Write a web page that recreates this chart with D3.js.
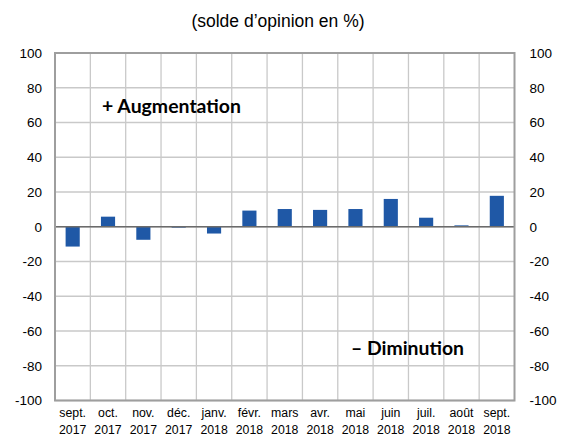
<!DOCTYPE html>
<html>
<head>
<meta charset="utf-8">
<script src="https://cdn.jsdelivr.net/npm/d3@7"></script>
<style>
  body { margin: 0; background: #fff; }
  svg { display: block; font-family: "Liberation Sans", Arial, sans-serif; }
</style>
</head>
<body>
<div class="container"></div>
<script>
const months = ["sept.", "oct.", "nov.", "déc.", "janv.", "févr.", "mars", "avr.", "mai", "juin", "juil.", "août", "sept."]
const years = ["2017", "2017", "2017", "2017", "2018", "2018", "2018", "2018", "2018", "2018", "2018", "2018", "2018"]
const values = [-11.4, 5.8, -7.5, -0.5, -3.9, 9.3, 10.2, 9.7, 10.2, 16.0, 5.2, 0.8, 17.8]
const yTicks = [-100, -80, -60, -40, -20, 0, 20, 40, 60, 80, 100]

const w = 563
const h = 441
const plotLeft = 55
const plotRight = 514.5
const plotTop = 53
const plotBottom = 400.5

const svg = d3.select(".container")
  .append("svg")
  .attr("width", w)
  .attr("height", h)

const xScale = d3.scaleBand()
  .domain(d3.range(values.length))
  .range([plotLeft, plotRight])
  .paddingInner(0)
  .paddingOuter(0)

const yScale = d3.scaleLinear()
  .domain([-100, 100])
  .range([plotBottom, plotTop])

// gridlines
svg.append("g")
  .selectAll("line")
  .data(yTicks)
  .enter()
  .append("line")
  .attr("x1", plotLeft)
  .attr("x2", plotRight)
  .attr("y1", d => yScale(d))
  .attr("y2", d => yScale(d))
  .attr("stroke", "#c9c9c9")
  .attr("stroke-width", 1.3)

svg.append("g")
  .selectAll("line")
  .data(d3.range(1, values.length))
  .enter()
  .append("line")
  .attr("x1", d => xScale(d))
  .attr("x2", d => xScale(d))
  .attr("y1", plotTop)
  .attr("y2", plotBottom)
  .attr("stroke", "#c9c9c9")
  .attr("stroke-width", 1.3)

// bars
const barW = xScale.bandwidth() * 0.4
svg.selectAll("rect.bar")
  .data(values)
  .enter()
  .append("rect")
  .attr("class", "bar")
  .attr("x", (d, i) => xScale(i) + (xScale.bandwidth() - barW) / 2)
  .attr("y", d => yScale(Math.max(0, d)))
  .attr("width", barW)
  .attr("height", d => Math.abs(yScale(d) - yScale(0)))
  .attr("fill", "#1f58a6")

// zero line
svg.append("line")
  .attr("x1", plotLeft)
  .attr("x2", plotRight)
  .attr("y1", yScale(0))
  .attr("y2", yScale(0))
  .attr("stroke", "#6b6b6b")
  .attr("stroke-width", 1.3)

// frame
svg.append("rect")
  .attr("x", plotLeft)
  .attr("y", plotTop)
  .attr("width", plotRight - plotLeft)
  .attr("height", plotBottom - plotTop)
  .attr("fill", "none")
  .attr("stroke", "#9e9e9e")
  .attr("stroke-width", 2)

// axes (plain hyphen for negatives, like the original)
const fmt = d => String(d)
const yAxisL = d3.axisLeft(yScale).tickValues(yTicks).tickFormat(fmt).tickSize(0).tickPadding(13)
const yAxisR = d3.axisRight(yScale).tickValues(yTicks).tickFormat(fmt).tickSize(0).tickPadding(15)

const gl = svg.append("g").attr("transform", "translate(" + plotLeft + ",0)").call(yAxisL)
const gr = svg.append("g").attr("transform", "translate(" + plotRight + ",0)").call(yAxisR)
;[gl, gr].forEach(g => {
  g.select(".domain").remove()
  g.selectAll("text")
    .attr("font-family", "Liberation Sans, Arial, sans-serif")
    .attr("font-size", 13.5)
    .attr("fill", "#000")
})

const xAxis = svg.append("g")
xAxis.selectAll("text.m")
  .data(months)
  .enter()
  .append("text")
  .attr("x", (d, i) => xScale(i) + xScale.bandwidth() / 2)
  .attr("y", 417)
  .attr("text-anchor", "middle")
  .attr("font-size", 12.3)
  .text(d => d)
xAxis.selectAll("text.y")
  .data(years)
  .enter()
  .append("text")
  .attr("x", (d, i) => xScale(i) + xScale.bandwidth() / 2)
  .attr("y", 434)
  .attr("text-anchor", "middle")
  .attr("font-size", 12.3)
  .text(d => d)

// title and annotations
svg.append("text")
  .attr("x", 278)
  .attr("y", 27)
  .attr("text-anchor", "middle")
  .attr("font-size", 17.5)
  .text("(solde d’opinion en %)")

svg.append("text")
  .attr("x", 102)
  .attr("y", 113)
  .attr("font-family", "Lato, 'Open Sans', sans-serif")
  .attr("font-weight", "bold")
  .attr("font-size", 18)
  .attr("textLength", 139)
  .attr("lengthAdjust", "spacingAndGlyphs")
  .text("+ Augmentation")

svg.append("text")
  .attr("x", 351)
  .attr("y", 355)
  .attr("font-family", "Lato, 'Open Sans', sans-serif")
  .attr("font-weight", "bold")
  .attr("font-size", 18)
  .attr("textLength", 113)
  .attr("lengthAdjust", "spacingAndGlyphs")
  .text("– Diminution")
</script>
</body>
</html>
